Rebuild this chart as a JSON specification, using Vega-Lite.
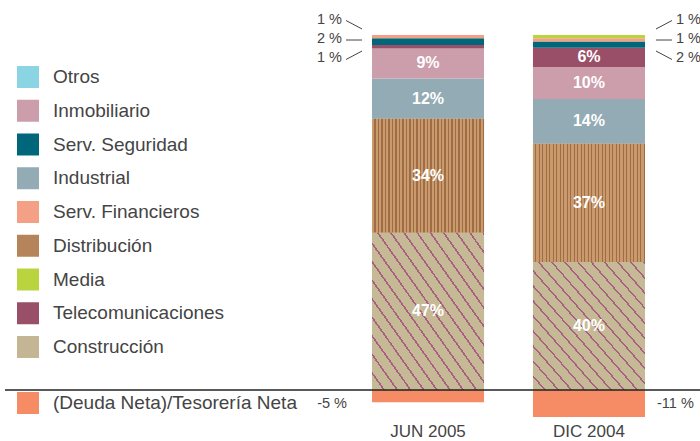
{
  "$schema": "https://vega.github.io/schema/vega-lite/v6.json",
  "width": 695,
  "height": 372.75,
  "autosize": "none",
  "padding": {"left": 5, "top": 35, "right": 0, "bottom": 33.25},
  "background": "white",
  "config": {
    "view": {"stroke": null},
    "font": "Liberation Sans",
    "axisX": {"domain": false, "ticks": false, "labelFontSize": 17, "labelColor": "#444444", "labelPadding": 16, "labelAngle": 0}
  },
  "datasets": {
    "sectores": [
      {"periodo": "JUN 2005", "sector": "Construcción", "pct": 47, "orden": 1},
      {"periodo": "JUN 2005", "sector": "Distribución", "pct": 34, "orden": 2},
      {"periodo": "JUN 2005", "sector": "Industrial", "pct": 12, "orden": 3},
      {"periodo": "JUN 2005", "sector": "Inmobiliario", "pct": 9, "orden": 4},
      {"periodo": "JUN 2005", "sector": "Telecomunicaciones", "pct": 1, "orden": 5},
      {"periodo": "JUN 2005", "sector": "Serv. Seguridad", "pct": 2, "orden": 6},
      {"periodo": "JUN 2005", "sector": "Serv. Financieros", "pct": 1, "orden": 7},
      {"periodo": "DIC 2004", "sector": "Construcción", "pct": 40, "orden": 1},
      {"periodo": "DIC 2004", "sector": "Distribución", "pct": 37, "orden": 2},
      {"periodo": "DIC 2004", "sector": "Industrial", "pct": 14, "orden": 3},
      {"periodo": "DIC 2004", "sector": "Inmobiliario", "pct": 10, "orden": 4},
      {"periodo": "DIC 2004", "sector": "Telecomunicaciones", "pct": 6, "orden": 5},
      {"periodo": "DIC 2004", "sector": "Serv. Seguridad", "pct": 2, "orden": 6},
      {"periodo": "DIC 2004", "sector": "Serv. Financieros", "pct": 1, "orden": 7},
      {"periodo": "DIC 2004", "sector": "Media", "pct": 1, "orden": 8}
    ],
    "deuda": [
      {"periodo": "JUN 2005", "concepto": "(Deuda Neta)/Tesorería Neta", "pct": -5},
      {"periodo": "DIC 2004", "concepto": "(Deuda Neta)/Tesorería Neta", "pct": -11}
    ]
  },
  "layer": [
    {
      "data": {"name": "sectores"},
      "layer": [
        {
          "mark": {"type": "bar"},
          "encoding": {
            "x": {"field": "periodo", "type": "nominal", "title": null, "sort": ["JUN 2005", "DIC 2004"], "scale": {"range": [367, 640], "paddingInner": 0.304, "paddingOuter": 0}},
            "y": {"field": "pct", "type": "quantitative", "stack": "normalize", "scale": {"domain": [-0.05, 1], "nice": false, "zero": false}, "axis": null},
            "order": {"field": "orden", "type": "quantitative"},
            "color": {
              "field": "sector", "type": "nominal",
              "scale": {
                "domain": ["Otros", "Inmobiliario", "Serv. Seguridad", "Industrial", "Serv. Financieros", "Distribución", "Media", "Telecomunicaciones", "Construcción"],
                "range": ["#8bd4e4", "#cc9dab", "#00677a", "#93abb5", "#f4a085", "#b6845a", "#b9d43f", "#9a4f69", "#c4b594"]
              },
              "legend": {"orient": "none", "legendX": 12, "legendY": 31, "title": null, "symbolType": "square", "symbolSize": 484, "symbolStrokeWidth": 0, "labelFontSize": 19, "labelColor": "#444444", "labelOffset": 14, "rowPadding": 11.75, "labelLimit": 400}
            }
          }
        },
        {
          "mark": {"type": "bar"},
          "encoding": {
            "x": {"field": "periodo", "type": "nominal", "title": null, "sort": ["JUN 2005", "DIC 2004"], "scale": {"range": [367, 640], "paddingInner": 0.304, "paddingOuter": 0}},
            "y": {"field": "pct", "type": "quantitative", "stack": "normalize", "axis": null},
            "order": {"field": "orden", "type": "quantitative"},
            "fill": {
              "condition": [
                {"test": "datum.sector === 'Distribución'", "value": {"gradient": "linear", "x1": 0, "y1": 0, "x2": 1, "y2": 0, "stops": [
                  {"offset": 0, "color": "#c99a6b"}, {"offset": 0.01875, "color": "#c99a6b"}, {"offset": 0.01875, "color": "#a06c46"}, {"offset": 0.03125, "color": "#a06c46"},
                  {"offset": 0.03125, "color": "#c99a6b"}, {"offset": 0.05, "color": "#c99a6b"}, {"offset": 0.05, "color": "#a06c46"}, {"offset": 0.0625, "color": "#a06c46"},
                  {"offset": 0.0625, "color": "#c99a6b"}, {"offset": 0.08125, "color": "#c99a6b"}, {"offset": 0.08125, "color": "#a06c46"}, {"offset": 0.09375, "color": "#a06c46"},
                  {"offset": 0.09375, "color": "#c99a6b"}, {"offset": 0.1125, "color": "#c99a6b"}, {"offset": 0.1125, "color": "#a06c46"}, {"offset": 0.125, "color": "#a06c46"},
                  {"offset": 0.125, "color": "#c99a6b"}, {"offset": 0.14375, "color": "#c99a6b"}, {"offset": 0.14375, "color": "#a06c46"}, {"offset": 0.15625, "color": "#a06c46"},
                  {"offset": 0.15625, "color": "#c99a6b"}, {"offset": 0.175, "color": "#c99a6b"}, {"offset": 0.175, "color": "#a06c46"}, {"offset": 0.1875, "color": "#a06c46"},
                  {"offset": 0.1875, "color": "#c99a6b"}, {"offset": 0.20625, "color": "#c99a6b"}, {"offset": 0.20625, "color": "#a06c46"}, {"offset": 0.21875, "color": "#a06c46"},
                  {"offset": 0.21875, "color": "#c99a6b"}, {"offset": 0.2375, "color": "#c99a6b"}, {"offset": 0.2375, "color": "#a06c46"}, {"offset": 0.25, "color": "#a06c46"},
                  {"offset": 0.25, "color": "#c99a6b"}, {"offset": 0.26875, "color": "#c99a6b"}, {"offset": 0.26875, "color": "#a06c46"}, {"offset": 0.28125, "color": "#a06c46"},
                  {"offset": 0.28125, "color": "#c99a6b"}, {"offset": 0.3, "color": "#c99a6b"}, {"offset": 0.3, "color": "#a06c46"}, {"offset": 0.3125, "color": "#a06c46"},
                  {"offset": 0.3125, "color": "#c99a6b"}, {"offset": 0.33125, "color": "#c99a6b"}, {"offset": 0.33125, "color": "#a06c46"}, {"offset": 0.34375, "color": "#a06c46"},
                  {"offset": 0.34375, "color": "#c99a6b"}, {"offset": 0.3625, "color": "#c99a6b"}, {"offset": 0.3625, "color": "#a06c46"}, {"offset": 0.375, "color": "#a06c46"},
                  {"offset": 0.375, "color": "#c99a6b"}, {"offset": 0.39375, "color": "#c99a6b"}, {"offset": 0.39375, "color": "#a06c46"}, {"offset": 0.40625, "color": "#a06c46"},
                  {"offset": 0.40625, "color": "#c99a6b"}, {"offset": 0.425, "color": "#c99a6b"}, {"offset": 0.425, "color": "#a06c46"}, {"offset": 0.4375, "color": "#a06c46"},
                  {"offset": 0.4375, "color": "#c99a6b"}, {"offset": 0.45625, "color": "#c99a6b"}, {"offset": 0.45625, "color": "#a06c46"}, {"offset": 0.46875, "color": "#a06c46"},
                  {"offset": 0.46875, "color": "#c99a6b"}, {"offset": 0.4875, "color": "#c99a6b"}, {"offset": 0.4875, "color": "#a06c46"}, {"offset": 0.5, "color": "#a06c46"},
                  {"offset": 0.5, "color": "#c99a6b"}, {"offset": 0.51875, "color": "#c99a6b"}, {"offset": 0.51875, "color": "#a06c46"}, {"offset": 0.53125, "color": "#a06c46"},
                  {"offset": 0.53125, "color": "#c99a6b"}, {"offset": 0.55, "color": "#c99a6b"}, {"offset": 0.55, "color": "#a06c46"}, {"offset": 0.5625, "color": "#a06c46"},
                  {"offset": 0.5625, "color": "#c99a6b"}, {"offset": 0.58125, "color": "#c99a6b"}, {"offset": 0.58125, "color": "#a06c46"}, {"offset": 0.59375, "color": "#a06c46"},
                  {"offset": 0.59375, "color": "#c99a6b"}, {"offset": 0.6125, "color": "#c99a6b"}, {"offset": 0.6125, "color": "#a06c46"}, {"offset": 0.625, "color": "#a06c46"},
                  {"offset": 0.625, "color": "#c99a6b"}, {"offset": 0.64375, "color": "#c99a6b"}, {"offset": 0.64375, "color": "#a06c46"}, {"offset": 0.65625, "color": "#a06c46"},
                  {"offset": 0.65625, "color": "#c99a6b"}, {"offset": 0.675, "color": "#c99a6b"}, {"offset": 0.675, "color": "#a06c46"}, {"offset": 0.6875, "color": "#a06c46"},
                  {"offset": 0.6875, "color": "#c99a6b"}, {"offset": 0.70625, "color": "#c99a6b"}, {"offset": 0.70625, "color": "#a06c46"}, {"offset": 0.71875, "color": "#a06c46"},
                  {"offset": 0.71875, "color": "#c99a6b"}, {"offset": 0.7375, "color": "#c99a6b"}, {"offset": 0.7375, "color": "#a06c46"}, {"offset": 0.75, "color": "#a06c46"},
                  {"offset": 0.75, "color": "#c99a6b"}, {"offset": 0.76875, "color": "#c99a6b"}, {"offset": 0.76875, "color": "#a06c46"}, {"offset": 0.78125, "color": "#a06c46"},
                  {"offset": 0.78125, "color": "#c99a6b"}, {"offset": 0.8, "color": "#c99a6b"}, {"offset": 0.8, "color": "#a06c46"}, {"offset": 0.8125, "color": "#a06c46"},
                  {"offset": 0.8125, "color": "#c99a6b"}, {"offset": 0.83125, "color": "#c99a6b"}, {"offset": 0.83125, "color": "#a06c46"}, {"offset": 0.84375, "color": "#a06c46"},
                  {"offset": 0.84375, "color": "#c99a6b"}, {"offset": 0.8625, "color": "#c99a6b"}, {"offset": 0.8625, "color": "#a06c46"}, {"offset": 0.875, "color": "#a06c46"},
                  {"offset": 0.875, "color": "#c99a6b"}, {"offset": 0.89375, "color": "#c99a6b"}, {"offset": 0.89375, "color": "#a06c46"}, {"offset": 0.90625, "color": "#a06c46"},
                  {"offset": 0.90625, "color": "#c99a6b"}, {"offset": 0.925, "color": "#c99a6b"}, {"offset": 0.925, "color": "#a06c46"}, {"offset": 0.9375, "color": "#a06c46"},
                  {"offset": 0.9375, "color": "#c99a6b"}, {"offset": 0.95625, "color": "#c99a6b"}, {"offset": 0.95625, "color": "#a06c46"}, {"offset": 0.96875, "color": "#a06c46"},
                  {"offset": 0.96875, "color": "#c99a6b"}, {"offset": 0.9875, "color": "#c99a6b"}, {"offset": 0.9875, "color": "#a06c46"}, {"offset": 1, "color": "#a06c46"}
                ]}},
                {"test": "datum.sector === 'Construcción'", "value": {"gradient": "linear", "x1": 0, "y1": 1, "x2": 1, "y2": 0, "stops": [
                  {"offset": 0, "color": "#c6b995"}, {"offset": 0.05, "color": "#c6b995"}, {"offset": 0.05, "color": "#a95f80"}, {"offset": 0.0588, "color": "#a95f80"},
                  {"offset": 0.0588, "color": "#c6b995"}, {"offset": 0.1088, "color": "#c6b995"}, {"offset": 0.1088, "color": "#a95f80"}, {"offset": 0.1176, "color": "#a95f80"},
                  {"offset": 0.1176, "color": "#c6b995"}, {"offset": 0.1676, "color": "#c6b995"}, {"offset": 0.1676, "color": "#a95f80"}, {"offset": 0.1765, "color": "#a95f80"},
                  {"offset": 0.1765, "color": "#c6b995"}, {"offset": 0.2265, "color": "#c6b995"}, {"offset": 0.2265, "color": "#a95f80"}, {"offset": 0.2353, "color": "#a95f80"},
                  {"offset": 0.2353, "color": "#c6b995"}, {"offset": 0.2853, "color": "#c6b995"}, {"offset": 0.2853, "color": "#a95f80"}, {"offset": 0.2941, "color": "#a95f80"},
                  {"offset": 0.2941, "color": "#c6b995"}, {"offset": 0.3441, "color": "#c6b995"}, {"offset": 0.3441, "color": "#a95f80"}, {"offset": 0.3529, "color": "#a95f80"},
                  {"offset": 0.3529, "color": "#c6b995"}, {"offset": 0.4029, "color": "#c6b995"}, {"offset": 0.4029, "color": "#a95f80"}, {"offset": 0.4118, "color": "#a95f80"},
                  {"offset": 0.4118, "color": "#c6b995"}, {"offset": 0.4618, "color": "#c6b995"}, {"offset": 0.4618, "color": "#a95f80"}, {"offset": 0.4706, "color": "#a95f80"},
                  {"offset": 0.4706, "color": "#c6b995"}, {"offset": 0.5206, "color": "#c6b995"}, {"offset": 0.5206, "color": "#a95f80"}, {"offset": 0.5294, "color": "#a95f80"},
                  {"offset": 0.5294, "color": "#c6b995"}, {"offset": 0.5794, "color": "#c6b995"}, {"offset": 0.5794, "color": "#a95f80"}, {"offset": 0.5882, "color": "#a95f80"},
                  {"offset": 0.5882, "color": "#c6b995"}, {"offset": 0.6382, "color": "#c6b995"}, {"offset": 0.6382, "color": "#a95f80"}, {"offset": 0.6471, "color": "#a95f80"},
                  {"offset": 0.6471, "color": "#c6b995"}, {"offset": 0.6971, "color": "#c6b995"}, {"offset": 0.6971, "color": "#a95f80"}, {"offset": 0.7059, "color": "#a95f80"},
                  {"offset": 0.7059, "color": "#c6b995"}, {"offset": 0.7559, "color": "#c6b995"}, {"offset": 0.7559, "color": "#a95f80"}, {"offset": 0.7647, "color": "#a95f80"},
                  {"offset": 0.7647, "color": "#c6b995"}, {"offset": 0.8147, "color": "#c6b995"}, {"offset": 0.8147, "color": "#a95f80"}, {"offset": 0.8235, "color": "#a95f80"},
                  {"offset": 0.8235, "color": "#c6b995"}, {"offset": 0.8735, "color": "#c6b995"}, {"offset": 0.8735, "color": "#a95f80"}, {"offset": 0.8824, "color": "#a95f80"},
                  {"offset": 0.8824, "color": "#c6b995"}, {"offset": 0.9324, "color": "#c6b995"}, {"offset": 0.9324, "color": "#a95f80"}, {"offset": 0.9412, "color": "#a95f80"},
                  {"offset": 0.9412, "color": "#c6b995"}, {"offset": 0.9912, "color": "#c6b995"}, {"offset": 0.9912, "color": "#a95f80"}, {"offset": 1, "color": "#a95f80"}
                ]}}
              ],
              "value": "transparent"
            }
          }
        },
        {
          "mark": {"type": "text", "text": {"expr": "datum.pct + '%'"}, "fontWeight": "bold", "fontSize": 16, "color": "white", "baseline": "middle"},
          "encoding": {
            "x": {"field": "periodo", "type": "nominal", "title": null, "sort": ["JUN 2005", "DIC 2004"], "scale": {"range": [367, 640], "paddingInner": 0.304, "paddingOuter": 0}},
            "y": {"field": "pct", "type": "quantitative", "stack": "normalize", "bandPosition": 0.5, "axis": null},
            "order": {"field": "orden", "type": "quantitative"},
            "opacity": {"condition": {"test": "datum.pct < 5", "value": 0}, "value": 1}
          }
        },
        {
          "transform": [
            {"filter": "datum.pct <= 2"},
            {"window": [{"op": "rank", "as": "r"}], "groupby": ["periodo"], "sort": [{"field": "orden", "order": "descending"}]}
          ],
          "layer": [
            {
              "mark": {"type": "text", "text": {"expr": "datum.pct + ' %'"}, "fontSize": 14.5, "color": "#444444", "baseline": "middle",
                "align": {"expr": "datum.periodo === 'JUN 2005' ? 'right' : 'left'"},
                "dx": {"expr": "datum.periodo === 'JUN 2005' ? -86 : 87"},
                "dy": {"expr": "-15 + (datum.r - 1) * 19"}},
              "encoding": {
                "x": {"field": "periodo", "type": "nominal", "title": null, "sort": ["JUN 2005", "DIC 2004"], "scale": {"range": [367, 640], "paddingInner": 0.304, "paddingOuter": 0}},
                "y": {"datum": 1, "type": "quantitative", "axis": null}
              }
            },
            {
              "mark": {"type": "rule", "color": "#444444", "strokeWidth": 1,
                "xOffset": {"expr": "datum.periodo === 'JUN 2005' ? -66 : 67"},
                "x2Offset": {"expr": "datum.periodo === 'JUN 2005' ? -82 : 83"},
                "yOffset": {"expr": "-6 + (datum.r - 1) * 11"},
                "y2Offset": {"expr": "-14.5 + (datum.r - 1) * 19.5"}},
              "encoding": {
                "x": {"field": "periodo", "type": "nominal", "title": null, "sort": ["JUN 2005", "DIC 2004"], "scale": {"range": [367, 640], "paddingInner": 0.304, "paddingOuter": 0}},
                "x2": {"field": "periodo"},
                "y": {"datum": 1, "type": "quantitative", "axis": null},
                "y2": {"datum": 1}
              }
            }
          ]
        }
      ]
    },
    {
      "data": {"name": "deuda"},
      "layer": [
        {
          "mark": {"type": "bar"},
          "encoding": {
            "x": {"field": "periodo", "type": "nominal", "title": null, "sort": ["JUN 2005", "DIC 2004"], "scale": {"range": [367, 640], "paddingInner": 0.304, "paddingOuter": 0}},
            "y": {"field": "pct", "type": "quantitative", "scale": {"domain": [-7.245, 144.9], "nice": false, "zero": false}, "axis": null},
            "fill": {"field": "concepto", "type": "nominal", "scale": {"range": ["#f58c66"]},
              "legend": {"orient": "none", "legendX": 12, "legendY": 357, "title": null, "symbolType": "square", "symbolSize": 484, "symbolStrokeWidth": 0, "labelFontSize": 19, "labelColor": "#444444", "labelOffset": 14, "labelLimit": 400}}
          }
        },
        {
          "mark": {"type": "text", "text": {"expr": "datum.pct + ' %'"}, "fontSize": 14.5, "color": "#444444", "baseline": "middle", "dy": 14,
            "align": {"expr": "datum.periodo === 'JUN 2005' ? 'right' : 'left'"},
            "dx": {"expr": "datum.periodo === 'JUN 2005' ? -81 : 68"}},
          "encoding": {
            "x": {"field": "periodo", "type": "nominal", "title": null, "sort": ["JUN 2005", "DIC 2004"], "scale": {"range": [367, 640], "paddingInner": 0.304, "paddingOuter": 0}},
            "y": {"datum": 0, "type": "quantitative", "axis": null}
          }
        },
        {
          "mark": {"type": "rule", "color": "#222222", "strokeWidth": 1.2},
          "encoding": {
            "y": {"datum": 0, "type": "quantitative", "axis": null}
          }
        }
      ]
    }
  ],
  "resolve": {"scale": {"y": "independent"}}
}
